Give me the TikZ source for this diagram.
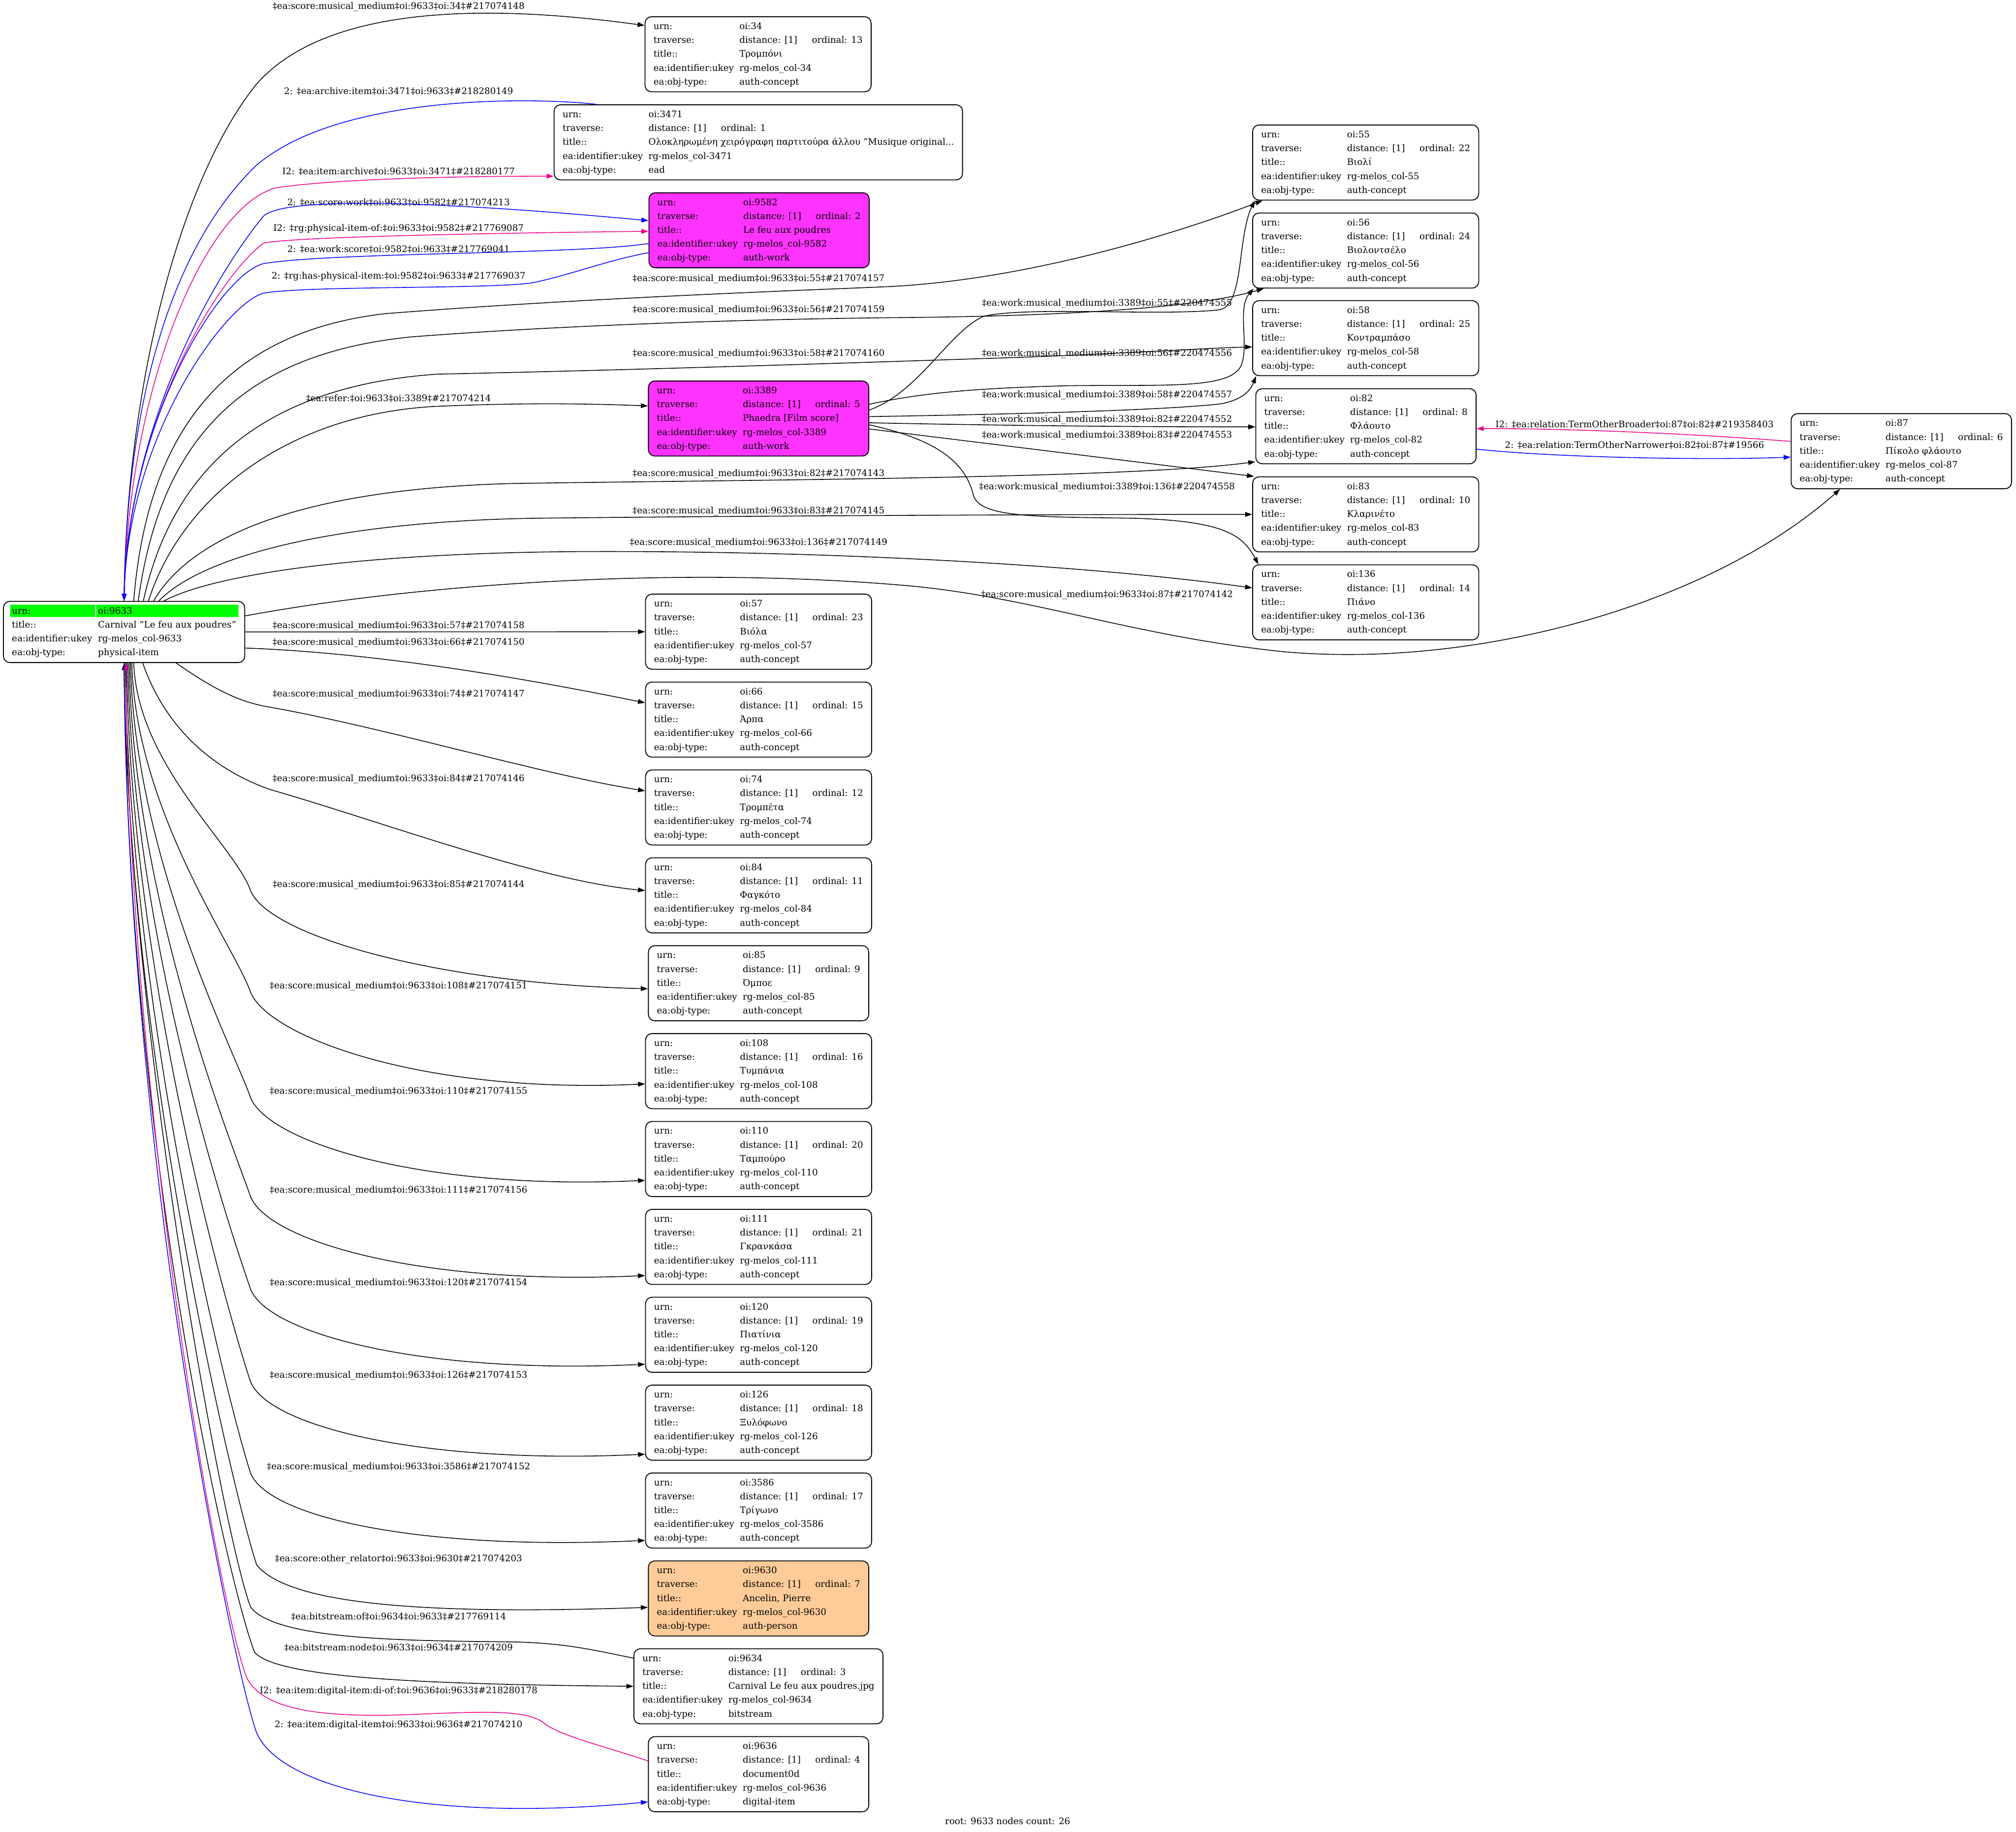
\documentclass[tikz,border=0pt]{standalone}
\usepackage{fontspec}
\setmainfont{DejaVu Serif}
\usetikzlibrary{arrows.meta,backgrounds}
\definecolor{hl}{RGB}{0,255,0}
\definecolor{mfill}{RGB}{255,51,255}
\definecolor{ofill}{RGB}{255,204,153}
\newcommand\rfont{\fontsize{7}{10.8}\selectfont}
\newcommand\recb[4]{\begin{tabular}{@{}p{66.8pt}@{}l@{}}urn: & oi:#1\\traverse: & \makebox[56.4pt][l]{distance: [1]}ordinal: #2\hspace{4.9pt}\\title:: & #3\\ea:identifier:ukey & rg-melos\_col-#1\\ea:obj-type: & #4\end{tabular}}
\newcommand\mmlab[2]{‡ea:score:musical\_medium‡oi:9633‡oi:#1‡\##2}
\newcommand\wmlab[2]{‡ea:work:musical\_medium‡oi:3389‡oi:#1‡\##2}
\begin{document}
\begin{tikzpicture}[x=1pt,y=-1pt,
  rec/.style={draw, rounded corners=5pt, line width=0.7pt, inner xsep=6.6pt, inner ysep=2.2pt, font=\rfont},
  lab/.style={inner sep=0pt, font=\rfont},
  ek/.style={line width=0.6pt, -{Triangle[length=5.5pt,width=3.7pt]}},
  ebl/.style={ek, blue},
  emg/.style={ek, magenta}]
\useasboundingbox (0,0) rectangle (1568,1424.5);

% ---------- nodes ----------
\node[rec] (root) at (96.5,491.5) {\begin{tabular}{@{}p{67pt}@{}l@{}}urn: & oi:9633\\title:: & Carnival "Le feu aux poudres"\\ea:identifier:ukey & rg-melos\_col-9633\\ea:obj-type: & physical-item\end{tabular}};

\node[rec] (n34) at (589.6,42.2) {\recb{34}{13}{Τρομπόνι}{auth-concept}};
\node[rec] (n3471) at (589.8,110.7) {\recb{3471}{1}{Ολοκληρωμένη χειρόγραφη παρτιτούρα άλλου "Musique original...}{ead}};
\node[rec,fill=mfill] (n9582) at (590.4,179.1) {\recb{9582}{2}{Le feu aux poudres}{auth-work}};
\node[rec,fill=mfill] (n3389) at (590,325.5) {\recb{3389}{5}{Phaedra [Film score]}{auth-work}};

\node[rec] (n57) at (590,491.3) {\recb{57}{23}{Βιόλα}{auth-concept}};
\node[rec] (n66) at (590,559.65) {\recb{66}{15}{Άρπα}{auth-concept}};
\node[rec] (n74) at (590,628.0) {\recb{74}{12}{Τρομπέτα}{auth-concept}};
\node[rec] (n84) at (590,696.35) {\recb{84}{11}{Φαγκότο}{auth-concept}};
\node[rec] (n85) at (590,764.7) {\recb{85}{9}{Όμποε}{auth-concept}};
\node[rec] (n108) at (590,833.05) {\recb{108}{16}{Τυμπάνια}{auth-concept}};
\node[rec] (n110) at (590,901.4) {\recb{110}{20}{Ταμπούρο}{auth-concept}};
\node[rec] (n111) at (590,969.75) {\recb{111}{21}{Γκρανκάσα}{auth-concept}};
\node[rec] (n120) at (590,1038.1) {\recb{120}{19}{Πιατίνια}{auth-concept}};
\node[rec] (n126) at (590,1106.45) {\recb{126}{18}{Ξυλόφωνο}{auth-concept}};
\node[rec] (n3586) at (590,1174.8) {\recb{3586}{17}{Τρίγωνο}{auth-concept}};
\node[rec,fill=ofill] (n9630) at (590,1243.15) {\recb{9630}{7}{Ancelin, Pierre}{auth-person}};
\node[rec] (n9634) at (589.9,1311.5) {\recb{9634}{3}{Carnival Le feu aux poudres.jpg}{bitstream}};
\node[rec] (n9636) at (590,1379.85) {\recb{9636}{4}{document0d}{digital-item}};

\node[rec] (n55) at (1062.2,126.4) {\recb{55}{22}{Βιολί}{auth-concept}};
\node[rec] (n56) at (1062.2,194.85) {\recb{56}{24}{Βιολοντσέλο}{auth-concept}};
\node[rec] (n58) at (1062.2,263.0) {\recb{58}{25}{Κοντραμπάσο}{auth-concept}};
\node[rec] (n82) at (1062.4,331.5) {\recb{82}{8}{Φλάουτο}{auth-concept}};
\node[rec] (n83) at (1062.2,400.05) {\recb{83}{10}{Κλαρινέτο}{auth-concept}};
\node[rec] (n136) at (1062.2,468.45) {\recb{136}{14}{Πιάνο}{auth-concept}};
\node[rec] (n87) at (1478.8,350.9) {\recb{87}{6}{Πίκολο φλάουτο}{auth-concept}};

\node[lab] (cap) at (783.7,1416.3) {root: 9633 nodes count: 26};

% ---------- background + root highlight ----------
\begin{scope}[on background layer]
\fill[white] (0,0) rectangle (1568,1424.5);
\fill[hl, draw=hl!50, line width=0.4pt] ([shift={(5.4,2.8)}]root.north west) rectangle ([shift={(71.6,12.4)}]root.north west);
\fill[hl, draw=hl!50, line width=0.4pt] ([shift={(72.5,2.8)}]root.north west) rectangle ([shift={(-5.4,12.4)}]root.north east);
\end{scope}

% ---------- labels ----------
\node[lab] (lb1) at (310,5.1) {\mmlab{34}{217074148}};
\node[lab] (lb2) at (310,70.8) {2: ‡ea:archive:item‡oi:3471‡oi:9633‡\#218280149};
\node[lab] (lb3) at (310,133.3) {I2: ‡ea:item:archive‡oi:9633‡oi:3471‡\#218280177};
\node[lab] (lb4) at (310,157.5) {2: ‡ea:score:work‡oi:9633‡oi:9582‡\#217074213};
\node[lab] (lb5) at (310,178) {I2: ‡rg:physical-item-of:‡oi:9633‡oi:9582‡\#217769087};
\node[lab] (lb6) at (310,193.7) {2: ‡ea:work:score‡oi:9582‡oi:9633‡\#217769041};
\node[lab] (lb7) at (310,214.9) {2: ‡rg:has-physical-item:‡oi:9582‡oi:9633‡\#217769037};
\node[lab] (lb8) at (590,216.9) {\mmlab{55}{217074157}};
\node[lab] (lb9) at (590,241.1) {\mmlab{56}{217074159}};
\node[lab] (lb10) at (590,275) {\mmlab{58}{217074160}};
\node[lab] (lb11) at (310,310) {‡ea:refer:‡oi:9633‡oi:3389‡\#217074214};
\node[lab] (lb12) at (861,236) {\wmlab{55}{220474555}};
\node[lab] (lb13) at (861,275) {\wmlab{56}{220474556}};
\node[lab] (lb14) at (861,307.4) {\wmlab{58}{220474557}};
\node[lab] (lb15) at (861,326.5) {\wmlab{82}{220474552}};
\node[lab] (lb16) at (861,338.7) {\wmlab{83}{220474553}};
\node[lab] (lb17) at (861,378.9) {\wmlab{136}{220474558}};
\node[lab] (lb18) at (590,368.6) {\mmlab{82}{217074143}};
\node[lab] (lb19) at (590,397.6) {\mmlab{83}{217074145}};
\node[lab] (lb20) at (590,422) {\mmlab{136}{217074149}};
\node[lab] (lb21) at (861,462.6) {\mmlab{87}{217074142}};
\node[lab] (lb22) at (1271.3,330.1) {I2: ‡ea:relation:TermOtherBroader‡oi:87‡oi:82‡\#219358403};
\node[lab] (lb23) at (1271.3,346.2) {2: ‡ea:relation:TermOtherNarrower‡oi:82‡oi:87‡\#19566};
\node[lab] (lb24) at (310,487) {\mmlab{57}{217074158}};
\node[lab] (lb25) at (310,500) {\mmlab{66}{217074150}};
\node[lab] (lb26) at (310,540) {\mmlab{74}{217074147}};
\node[lab] (lb27) at (310,606) {\mmlab{84}{217074146}};
\node[lab] (lb28) at (310,688) {\mmlab{85}{217074144}};
\node[lab] (lb29) at (310,767) {\mmlab{108}{217074151}};
\node[lab] (lb30) at (310,849) {\mmlab{110}{217074155}};
\node[lab] (lb31) at (310,926) {\mmlab{111}{217074156}};
\node[lab] (lb32) at (310,998) {\mmlab{120}{217074154}};
\node[lab] (lb33) at (310,1070) {\mmlab{126}{217074153}};
\node[lab] (lb34) at (310,1141) {\mmlab{3586}{217074152}};
\node[lab] (lb35) at (310,1212.7) {‡ea:score:other\_relator‡oi:9633‡oi:9630‡\#217074203};
\node[lab] (lb36) at (310,1257.4) {‡ea:bitstream:of‡oi:9634‡oi:9633‡\#217769114};
\node[lab] (lb37) at (310,1281.3) {‡ea:bitstream:node‡oi:9633‡oi:9634‡\#217074209};
\node[lab] (lb38) at (310,1315.3) {I2: ‡ea:item:digital-item:di-of:‡oi:9636‡oi:9633‡\#218280178};
\node[lab] (lb39) at (310,1341.6) {2: ‡ea:item:digital-item‡oi:9633‡oi:9636‡\#217074210};

% ---------- edges: top fan ----------
\draw[ek] (root.north) .. controls (98,300) and (140,140) .. (199,66) .. controls (258,-2) and (400,6) .. ([yshift=22.4pt]n34.west);
\draw[ebl] ([xshift=33.4pt]n3471.north west) .. controls (420,76) and (265,72) .. (199,128.9) .. controls (138,188) and (99,300) .. (root.north);
\draw[emg] (root.north) .. controls (99,300) and (160,160) .. (215,146) .. controls (270,138) and (380,137) .. ([yshift=-26.3pt]n3471.west);
\draw[ebl] (root.north) .. controls (98,330) and (170,210) .. (205,168) .. controls (225,150) and (380,160) .. ([yshift=7.5pt]n9582.west);
\draw[emg] (root.north) .. controls (98,330) and (170,215) .. (205,189) .. controls (230,184) and (400,181) .. ([yshift=-0.8pt]n9582.west);
\draw[ebl] ([yshift=-10.3pt]n9582.west) .. controls (450,198) and (260,196) .. (205,205) .. controls (170,214) and (99,330) .. (root.north);
\draw[ebl] ([yshift=-17.4pt]n9582.west) .. controls (470,203) and (440,215) .. (413.5,220) .. controls (380,225) and (240,222) .. (205,228) .. controls (175,236) and (99,340) .. (root.north);

% root -> right column
\draw[ek] ([xshift=7.5pt]root.north) .. controls (115,330) and (180,258) .. (299,244) .. controls (450,232) and (620,226) .. (689,223) .. controls (800,218) and (920,180) .. ([xshift=8pt]n55.south west);
\draw[ek] ([xshift=11pt]root.north) .. controls (125,340) and (190,275) .. (320,262) .. controls (450,252) and (600,248) .. (700,247) .. controls (820,246) and (930,240) .. ([xshift=9pt]n56.south west);
\draw[ek] ([xshift=15pt]root.north) .. controls (135,360) and (210,300) .. (340,291) .. controls (480,288) and (640,283) .. (760,279) .. controls (860,276) and (930,271) .. ([yshift=-6.8pt]n58.west);
\draw[ek] ([xshift=19pt]root.north) .. controls (140,390) and (220,322) .. (340,316) .. controls (410,313) and (460,314) .. ([yshift=9.8pt]n3389.west);
\draw[ek] ([xshift=23pt]root.north) .. controls (150,415) and (240,380) .. (400,376) .. controls (600,373) and (880,372) .. ([yshift=-27.6pt]n82.west);
\draw[ek] ([xshift=27pt]root.north) .. controls (160,430) and (270,405) .. (420,403) .. controls (600,401) and (850,400) .. (n83.west);
\draw[ek] ([xshift=31pt]root.north) .. controls (170,445) and (290,430) .. (450,429) .. controls (650,428) and (850,440) .. ([yshift=11.2pt]n136.west);
\draw[ek] ([yshift=12.5pt]root.east) .. controls (320,455) and (520,440) .. (700,455) .. controls (800,463) and (880,495) .. (1000,507) .. controls (1150,520) and (1330,470) .. ([xshift=38.4pt]n87.south west);

% 3389 -> right column
\draw[ek] ([yshift=6.6pt]n3389.east) .. controls (715,305) and (738,258) .. (765,246) .. controls (800,238) and (900,246) .. (948,241) .. controls (968,238) and (962,185) .. ([xshift=2pt]n55.south west);
\draw[ek] ([yshift=11.1pt]n3389.east) .. controls (720,305) and (760,302) .. (830,300) .. controls (905,299) and (955,303) .. (965,285) .. controls (972,270) and (962,240) .. ([xshift=1pt]n56.south west);
\draw[ek] ([yshift=1.5pt]n3389.east) .. controls (740,323) and (900,320) .. (950,314) .. controls (965,311) and (972,305) .. ([xshift=3pt]n58.south west);
\draw[ek] ([yshift=-3.3pt]n3389.east) .. controls (780,331) and (880,332) .. ([yshift=-0.5pt]n82.west);
\draw[ek] ([yshift=-4.9pt]n3389.east) .. controls (720,340) and (750,355) .. (757,385) .. controls (762,402) and (800,402) .. (880,403) .. controls (950,405) and (966,415) .. ([xshift=4.8pt]n136.north west);
\draw[ek] ([yshift=-8.1pt]n3389.east) -- ([xshift=1.4pt]n83.north west);

% 82 <-> 87
\draw[emg] ([yshift=7.6pt]n87.west) .. controls (1300,336) and (1200,333) .. ([yshift=-1.9pt]n82.east);
\draw[ebl] ([yshift=-17.8pt]n82.east) .. controls (1210,356) and (1330,358) .. ([yshift=-4.6pt]n87.west);

% ---------- root -> left column ----------
\draw[ek] (root.east) -- (n57.west);
\draw[ek] ([yshift=-12.5pt]root.east) .. controls (300,508) and (420,530) .. ([yshift=13.05pt]n66.west);
\draw[ek] ([xshift=40.5pt]root.south) .. controls (165,535) and (185,546) .. (210,550) .. controls (300,566) and (420,602) .. ([yshift=12.9pt]n74.west);
\draw[ek] ([xshift=14.5pt]root.south) .. controls (130,570) and (170,600) .. (210,614) .. controls (300,640) and (420,685) .. ([yshift=3.75pt]n84.west);
\draw[ek] ([xshift=7.5pt]root.south) .. controls (107,595) and (183,658) .. (195,693) .. controls (210,728) and (340,765) .. ([yshift=-4.3pt]n85.west);
\draw[ek] ([xshift=6pt]root.south) .. controls (105.5,630.7) and (183,737) .. (195,772) .. controls (210,807) and (330,851) .. ([yshift=-9.95pt]n108.west);
\draw[ek] ([xshift=5pt]root.south) .. controls (104.5,667.6) and (183,819) .. (195,854) .. controls (210,889) and (330,926) .. ([yshift=-16.6pt]n110.west);
\draw[ek] ([xshift=4pt]root.south) .. controls (103.5,702.2) and (183,896) .. (195,931) .. controls (210,966) and (330,1000) .. ([yshift=-22.25pt]n111.west);
\draw[ek] ([xshift=3pt]root.south) .. controls (102.5,734.6) and (183,968) .. (195,1003) .. controls (210,1038) and (330,1069) .. ([yshift=-22.9pt]n120.west);
\draw[ek] ([xshift=2pt]root.south) .. controls (101.5,767) and (183,1040) .. (195,1075) .. controls (210,1110) and (330,1139) .. ([yshift=-24.55pt]n126.west);
\draw[ek] ([xshift=1pt]root.south) .. controls (100.5,799) and (183,1111) .. (195,1146) .. controls (210,1181) and (330,1206) .. ([yshift=-23.2pt]n3586.west);
\draw[ek] (root.south) .. controls (99,830) and (188,1185) .. (199.7,1217.2) .. controls (225,1248) and (330,1256) .. ([yshift=-6.95pt]n9630.west);
\draw[ek] ([yshift=21.9pt]n9634.west) .. controls (460,1283) and (440,1278) .. (400,1277) .. controls (320,1276) and (215,1276) .. (195,1250) .. controls (175,1200) and (100,800) .. (root.south);
\draw[ek] (root.south) .. controls (99,900) and (180,1240) .. (198,1285) .. controls (215,1305) and (330,1310) .. (n9634.west);
\draw[emg] ([yshift=10.35pt]n9636.west) .. controls (470,1358) and (435,1350) .. (423,1340) .. controls (410,1330) and (380,1331) .. (330,1333) .. controls (250,1337) and (205,1330) .. (192,1305) .. controls (170,1250) and (100,850) .. ([xshift=1.5pt]root.south);
\draw[ebl] (root.south) .. controls (99,900) and (180,1290) .. (199,1346) .. controls (215,1390) and (330,1418) .. ([yshift=-21.55pt]n9636.west);
\end{tikzpicture}
\end{document}
